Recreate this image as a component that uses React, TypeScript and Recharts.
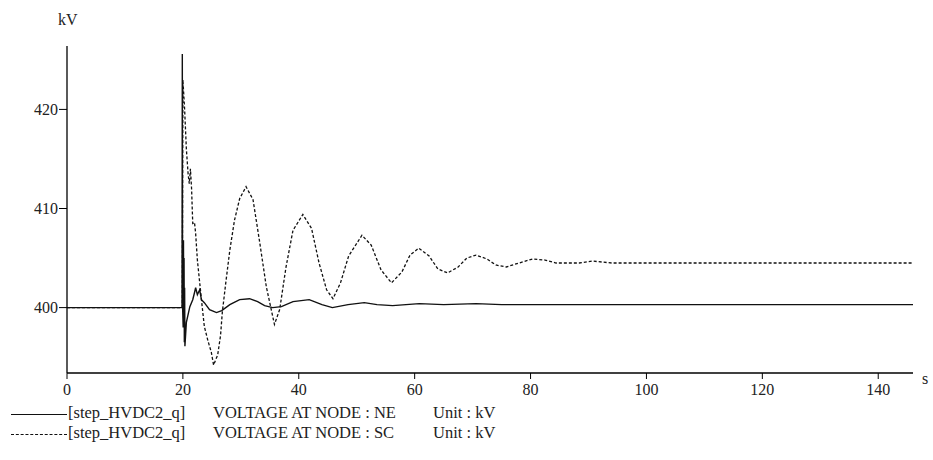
import React from "react";
import { LineChart, Line, XAxis, YAxis } from "recharts";

// time (s) and voltage (kV)
const neTime = [
  0, 19.85, 19.9, 19.95, 20.05, 20.1, 20.15, 20.2, 20.25, 20.3, 20.35, 20.6,
  21.2, 21.7, 22.0, 22.2, 22.5, 22.9, 23.2, 23.7, 24.6, 25.8, 26.7, 28.1, 29.8,
  31.5, 32.9, 34.1, 35.5, 37.0, 39.0, 41.8, 44.0, 45.8, 48.5, 51.3, 53.5, 56.2,
  58.5, 60.8, 65, 70.6, 75, 146,
];
const neVolt = [
  400, 400, 425.6, 400, 398, 406.8, 398, 405, 396.5, 402, 396.1, 398.5, 400.1,
  400.8, 401.5, 402, 401.3, 401.8, 400.8, 400.5, 399.8, 399.5, 399.7, 400.3,
  400.8, 400.9, 400.6, 400.2, 400.0, 400.1, 400.6, 400.8, 400.3, 400.0, 400.3,
  400.5, 400.3, 400.2, 400.3, 400.4, 400.3, 400.4, 400.3, 400.3,
];

const scTime = [
  0, 19.9, 20.0, 20.3, 20.6, 20.9, 21.1, 21.3, 21.5, 21.7, 22.0, 22.2, 22.5,
  22.8, 23.2, 23.7, 24.3, 24.9, 25.3, 25.7, 26.0, 26.5, 26.8, 27.4, 28.1, 28.9,
  29.8, 30.9, 32.1, 33.2, 34.4, 35.8, 36.7, 37.8, 39.0, 40.7, 42.2, 43.5, 44.8,
  45.9, 47.2, 48.6, 50.9, 52.5, 54.2, 56.0, 57.8, 59.2, 60.7, 62.5, 64.0, 65.7,
  67.5, 69.0, 70.6, 72.5, 74.0, 75.8, 78.0, 80.3, 82.5, 84.4, 88.4, 90.6, 94,
  146,
];
const scVolt = [
  400, 400, 423.0, 420, 416, 413.5, 412.5, 414, 412, 408.5, 408.6, 407.5, 404.8,
  403.1, 400.8, 398.1, 396.7, 395.5, 394.2, 394.8, 395.2, 397.2, 399.5, 402.5,
  405.8, 408.8, 411.0, 412.2, 410.9, 406.8, 402.1, 398.3, 399.8, 404.1, 407.8,
  409.4, 408, 404.5, 401.8, 400.9, 402.5, 405.2, 407.3, 406.3, 403.8, 402.5,
  403.6, 405.3, 406.0, 405.2, 403.9, 403.5, 404.1, 405.0, 405.3, 404.9, 404.3,
  404.1, 404.5, 404.9, 404.8, 404.5, 404.5, 404.7, 404.5, 404.5,
];

const xTicks = [0, 20, 40, 60, 80, 100, 120, 140];
const yTicks = [400, 410, 420];

const legendRows = [
  { tag: "[step_HVDC2_q]", name: "VOLTAGE AT NODE : NE", unit: "Unit : kV", dash: false },
  { tag: "[step_HVDC2_q]", name: "VOLTAGE AT NODE : SC", unit: "Unit : kV", dash: true },
];

const neData = neTime.map((t, i) => ({ t, v: neVolt[i] }));
const scData = scTime.map((t, i) => ({ t, v: scVolt[i] }));

const font = "Liberation Serif, DejaVu Serif, serif";
const tickStyle = { fontSize: 16, fontFamily: font, fill: "#222" };

export default function App() {
  return (
    <div
      style={{
        position: "absolute",
        left: 0,
        top: 0,
        width: 933,
        height: 460,
        background: "#fff",
        fontFamily: font,
        color: "#222",
      }}
    >
      <LineChart
        width={933}
        height={460}
        margin={{ top: 46, right: 20, bottom: 57, left: 7 }}
        style={{ fontFamily: font }}
      >
        <XAxis
          type="number"
          dataKey="t"
          domain={[0, 146]}
          ticks={xTicks}
          allowDataOverflow
          tick={tickStyle}
          tickSize={6}
          tickMargin={5}
          height={30}
          stroke="#000"
          axisLine={{ stroke: "#000", strokeWidth: 1.3 }}
        />
        <YAxis
          type="number"
          dataKey="v"
          domain={[393.4, 426.4]}
          ticks={yTicks}
          allowDataOverflow
          tick={tickStyle}
          tickSize={8}
          tickMargin={1}
          width={60}
          stroke="#000"
          axisLine={{ stroke: "#000", strokeWidth: 1.3 }}
        />
        <Line
          data={neData}
          dataKey="v"
          type="linear"
          stroke="#111"
          strokeWidth={1.4}
          dot={false}
          isAnimationActive={false}
        />
        <Line
          data={scData}
          dataKey="v"
          type="linear"
          stroke="#111"
          strokeWidth={1.3}
          strokeDasharray="3 2"
          dot={false}
          isAnimationActive={false}
        />
      </LineChart>

      <div style={{ position: "absolute", left: 58, top: 11, fontSize: 16 }}>kV</div>
      <div style={{ position: "absolute", left: 922, top: 370, fontSize: 16 }}>s</div>

      {legendRows.map((r, i) => (
        <div
          key={i}
          style={{
            position: "absolute",
            left: 0,
            top: 403 + i * 20,
            height: 20,
            width: 933,
            fontSize: 16.5,
            lineHeight: "20px",
            whiteSpace: "nowrap",
          }}
        >
          <div
            style={{
              position: "absolute",
              left: 11,
              top: 11,
              width: 56,
              borderTop: r.dash ? "1px dashed #111" : "1.5px solid #111",
            }}
          />
          <span style={{ position: "absolute", left: 68 }}>{r.tag}</span>
          <span style={{ position: "absolute", left: 213 }}>{r.name}</span>
          <span style={{ position: "absolute", left: 433 }}>{r.unit}</span>
        </div>
      ))}
    </div>
  );
}
